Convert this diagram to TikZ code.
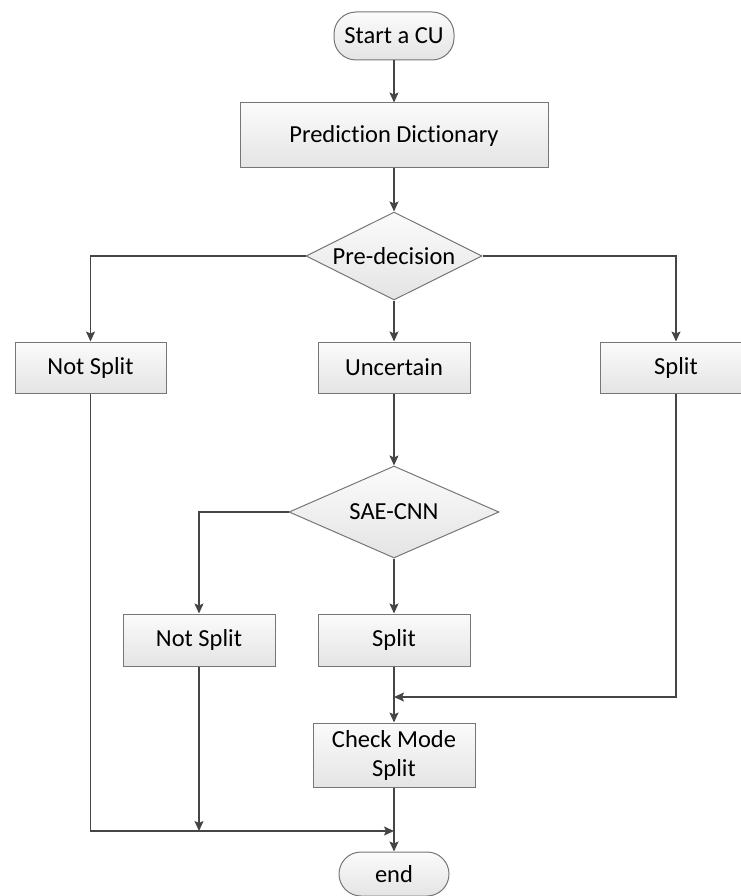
\documentclass[tikz,border=0pt]{standalone}
\usepackage{fontspec}
\setmainfont[Ligatures=NoCommon]{Carlito}
\usetikzlibrary{shapes.geometric,arrows.meta}
\definecolor{linec}{HTML}{454545}
\definecolor{borderc}{HTML}{767676}
\definecolor{topc}{HTML}{FBFBFB}
\definecolor{botc}{HTML}{E4E4E4}
\tikzset{
  base/.style={draw=borderc,line width=1pt,top color=topc,bottom color=botc,
    font=\fontsize{24.5}{29}\selectfont,inner sep=0pt,align=center},
  box/.style={base,rectangle},
  term/.style={base,rectangle,rounded corners=22pt},
  dec/.style={base,diamond},
  arr/.style={draw=linec,line width=1.4pt,-{Stealth[length=10pt,width=9pt,inset=2pt]}},
  ln/.style={draw=linec,line width=1.4pt}
}
\begin{document}
\begin{tikzpicture}[x=1pt,y=-1pt]
\useasboundingbox (0,0) rectangle (740,896);
\node[term,minimum width=120pt,minimum height=48pt] (start) at (394,36) {Start a CU};
\node[box,minimum width=308pt,minimum height=65pt] (pd) at (394,135.5) {Prediction Dictionary};
\node[dec,minimum width=176pt,minimum height=88pt,aspect=2] (pre) at (394,256) {Pre-decision};
\node[box,minimum width=151pt,minimum height=51pt] (ns1) at (90.5,367.5) {Not Split};
\node[box,minimum width=152pt,minimum height=51pt] (unc) at (394,367.5) {Uncertain};
\node[box,minimum width=152pt,minimum height=51pt] (sp1) at (676,367.5) {Split};
\node[dec,minimum width=210pt,minimum height=92pt,aspect=2.28] (sae) at (394,512) {SAE-CNN};
\node[box,minimum width=152pt,minimum height=52pt] (ns2) at (199,640) {Not Split};
\node[box,minimum width=152pt,minimum height=52pt] (sp2) at (394,640) {Split};
\node[box,minimum width=162pt,minimum height=64pt] (cms) at (394,755) {Check Mode\\Split};
\node[term,minimum width=110pt,minimum height=44pt] (end) at (394,874) {end};
\coordinate (m1) at (394,697);
\coordinate (m2) at (394,831);
\draw[arr] (start) -- (pd);
\draw[arr] (pd) -- (pre);
\draw[arr] (pre.west) -| (ns1.north);
\draw[arr] (pre.south) -- (unc.north);
\draw[arr] (pre.east) -| (sp1.north);
\draw[arr] (unc) -- (sae);
\draw[arr] (sae.west) -| (ns2.north);
\draw[arr] (sae.south) -- (sp2.north);
\draw[arr] (sp2) -- (cms);
\draw[arr] (sp1.south) |- (m1);
\draw[arr] (ns1.south) |- (m2);
\draw[arr] (ns2.south) -- (ns2.south |- m2);
\draw[arr] (cms) -- (end);
\end{tikzpicture}
\end{document}
